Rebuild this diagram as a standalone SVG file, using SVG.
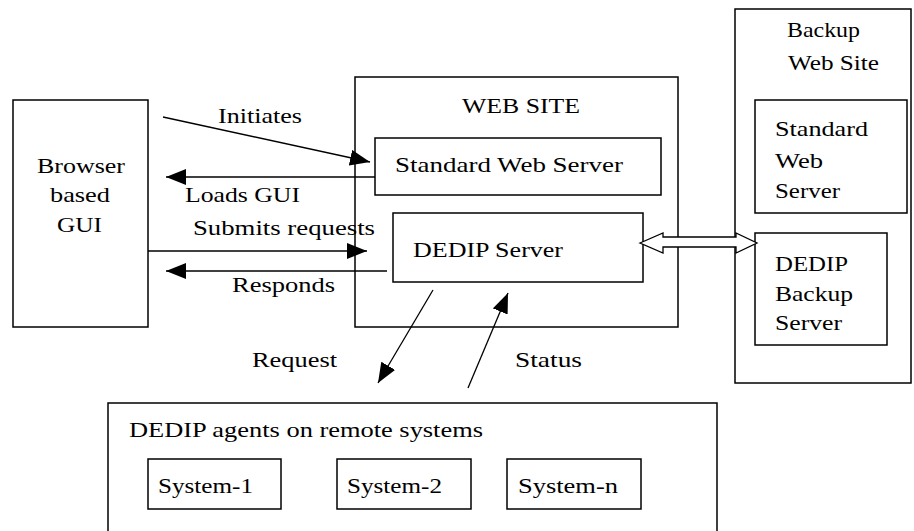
<svg xmlns="http://www.w3.org/2000/svg" width="914" height="531" viewBox="0 0 914 531">
  <style>
    .box { fill: none; stroke: #000; stroke-width: 1.5; }
    .lbl { font-family: 'Liberation Serif', 'DejaVu Serif', serif; font-size: 21px; fill: #000; }
    .conn { stroke: #000; stroke-width: 1.3; fill: none; marker-end: url(#head); }
  </style>
  <defs>
    <marker id="head" markerUnits="userSpaceOnUse" markerWidth="21" markerHeight="17" refX="20" refY="8" orient="auto">
      <path d="M0,0 L20,8 L0,16 z" fill="#000"/>
    </marker>
  </defs>

  <rect width="914" height="531" fill="#fff"/>

  <!-- Browser client -->
  <g id="browser-gui">
    <rect class="box" x="13" y="100" width="135" height="227"/>
    <text class="lbl" x="37" y="173" textLength="88" lengthAdjust="spacingAndGlyphs">Browser</text>
    <text class="lbl" x="50" y="202" textLength="60" lengthAdjust="spacingAndGlyphs">based</text>
    <text class="lbl" x="57" y="232" textLength="45" lengthAdjust="spacingAndGlyphs">GUI</text>
  </g>

  <!-- Primary web site -->
  <g id="web-site">
    <rect class="box" x="355" y="77" width="323" height="250"/>
    <text class="lbl" x="462" y="113" textLength="118" lengthAdjust="spacingAndGlyphs">WEB SITE</text>
  </g>
  <g id="standard-web-server">
    <rect class="box" x="375" y="138" width="286" height="57"/>
    <text class="lbl" x="395" y="172" textLength="228" lengthAdjust="spacingAndGlyphs">Standard Web Server</text>
  </g>
  <g id="dedip-server">
    <rect class="box" x="393" y="213" width="250" height="69"/>
    <text class="lbl" x="413" y="257" textLength="150" lengthAdjust="spacingAndGlyphs">DEDIP Server</text>
  </g>

  <!-- Backup web site -->
  <g id="backup-web-site">
    <rect class="box" x="735" y="9" width="176" height="374"/>
    <text class="lbl" x="787" y="37" textLength="73" lengthAdjust="spacingAndGlyphs">Backup</text>
    <text class="lbl" x="788" y="70" textLength="91" lengthAdjust="spacingAndGlyphs">Web Site</text>
  </g>
  <g id="backup-standard-web-server">
    <rect class="box" x="755" y="100" width="152" height="113"/>
    <text class="lbl" x="775" y="136" textLength="93" lengthAdjust="spacingAndGlyphs">Standard</text>
    <text class="lbl" x="775" y="168" textLength="48" lengthAdjust="spacingAndGlyphs">Web</text>
    <text class="lbl" x="775" y="198" textLength="65" lengthAdjust="spacingAndGlyphs">Server</text>
  </g>
  <g id="dedip-backup-server">
    <rect class="box" x="755" y="233" width="132" height="112"/>
    <text class="lbl" x="775" y="271" textLength="73" lengthAdjust="spacingAndGlyphs">DEDIP</text>
    <text class="lbl" x="775" y="301" textLength="78" lengthAdjust="spacingAndGlyphs">Backup</text>
    <text class="lbl" x="775" y="330" textLength="67" lengthAdjust="spacingAndGlyphs">Server</text>
  </g>

  <!-- Remote agents -->
  <g id="remote-agents">
    <rect class="box" x="108" y="403" width="609" height="140"/>
    <text class="lbl" x="129" y="437" textLength="354" lengthAdjust="spacingAndGlyphs">DEDIP agents on remote systems</text>
  </g>
  <g id="system-1">
    <rect class="box" x="148" y="459" width="133" height="50"/>
    <text class="lbl" x="158" y="493" textLength="95" lengthAdjust="spacingAndGlyphs">System-1</text>
  </g>
  <g id="system-2">
    <rect class="box" x="337" y="459" width="134" height="50"/>
    <text class="lbl" x="347" y="493" textLength="95" lengthAdjust="spacingAndGlyphs">System-2</text>
  </g>
  <g id="system-n">
    <rect class="box" x="507" y="459" width="134" height="50"/>
    <text class="lbl" x="518" y="493" textLength="100" lengthAdjust="spacingAndGlyphs">System-n</text>
  </g>

  <!-- Connectors -->
  <g id="connectors">
    <line class="conn" x1="163" y1="117" x2="370" y2="162"/>
    <line class="conn" x1="375" y1="177" x2="166" y2="177"/>
    <line class="conn" x1="148" y1="251" x2="367" y2="251"/>
    <line class="conn" x1="387" y1="271" x2="166" y2="271"/>
    <line class="conn" x1="433" y1="290" x2="378" y2="383"/>
    <line class="conn" x1="468" y1="388" x2="508" y2="293"/>
    <!-- replication link between DEDIP servers -->
    <polygon points="640,243 663,233 663,237 736,237 736,233 757,243 736,253 736,247 663,247 663,253" fill="#fff" stroke="#000" stroke-width="1.3"/>
    <text class="lbl" x="218" y="123" textLength="84" lengthAdjust="spacingAndGlyphs">Initiates</text>
    <text class="lbl" x="185" y="202" textLength="115" lengthAdjust="spacingAndGlyphs">Loads GUI</text>
    <text class="lbl" x="193" y="235" textLength="182" lengthAdjust="spacingAndGlyphs">Submits requests</text>
    <text class="lbl" x="232" y="292" textLength="103" lengthAdjust="spacingAndGlyphs">Responds</text>
    <text class="lbl" x="252" y="367" textLength="85" lengthAdjust="spacingAndGlyphs">Request</text>
    <text class="lbl" x="515" y="367" textLength="67" lengthAdjust="spacingAndGlyphs">Status</text>
  </g>
</svg>
